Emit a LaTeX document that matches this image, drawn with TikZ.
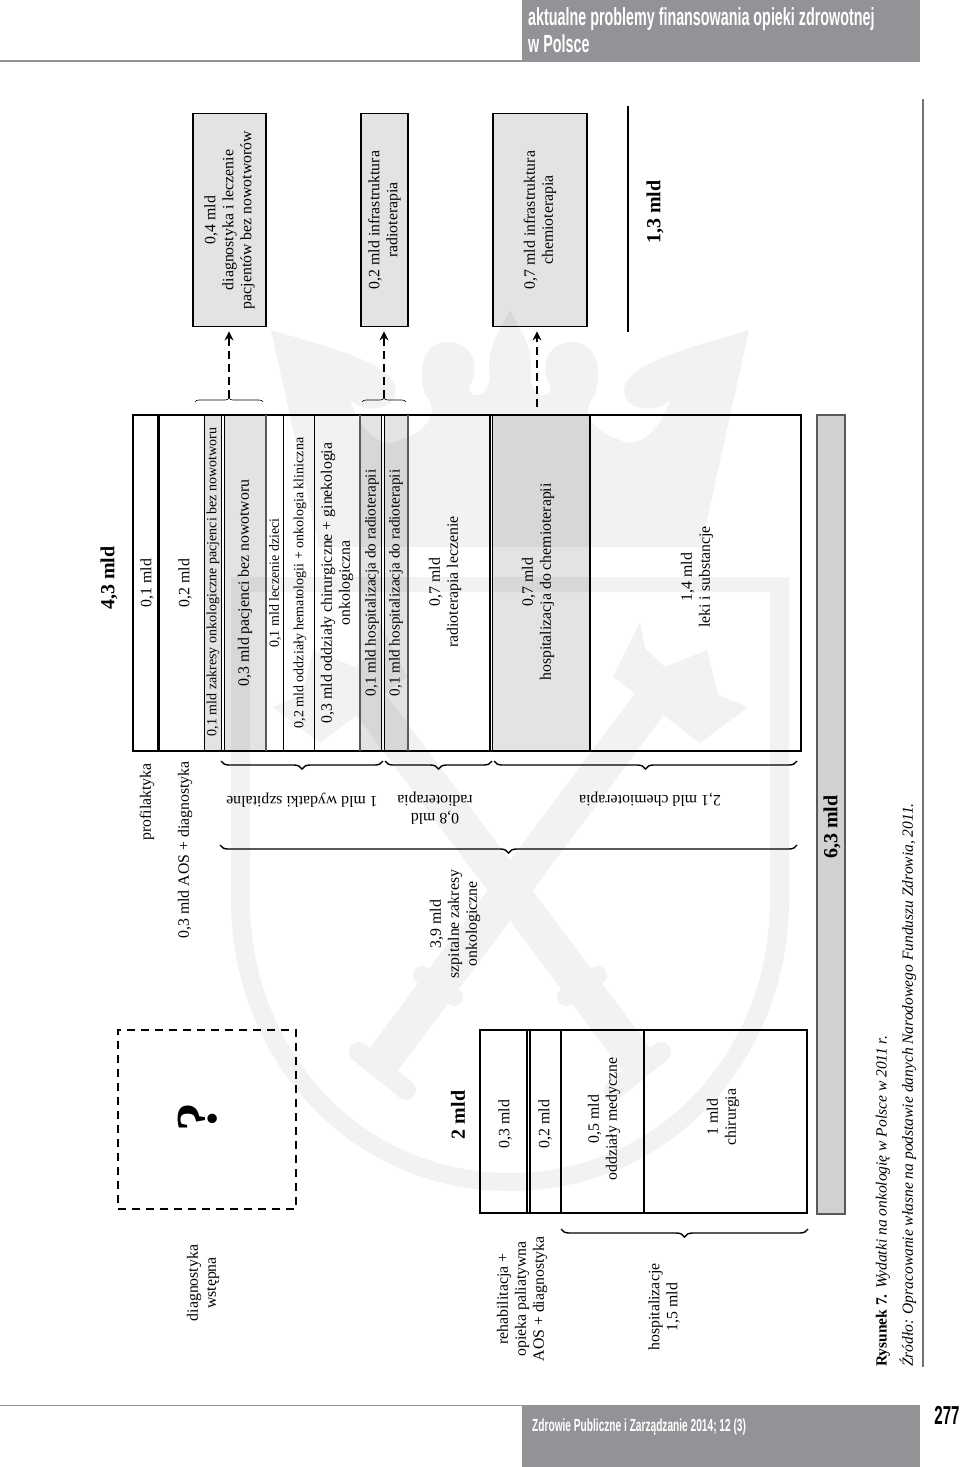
\documentclass[tikz,border=0pt]{standalone}
\usepackage{fontspec}
\setmainfont{Liberation Serif}
\newfontfamily\headfont[FakeStretch=0.58]{Liberation Sans Bold}
\usetikzlibrary{decorations.pathreplacing,arrows.meta}
\definecolor{wmark}{gray}{0.95}
\definecolor{headgray}{RGB}{146,147,150}
\definecolor{celledge}{gray}{0.35}
\tikzset{
  lab/.style={font=\fontsize{15.8}{18}\selectfont, align=center, inner sep=0pt},
  labhosp/.style={font=\fontsize{15.2}{18}\selectfont, align=center, inner sep=0pt},
  labsmall/.style={font=\fontsize{14}{17}\selectfont, align=center, inner sep=0pt},
  sumlab/.style={font=\fontsize{20}{22}\selectfont\bfseries, inner sep=0pt},
  cellgray/.style={fill=black, fill opacity=0.11},
  infobox/.style={draw, line width=1.8pt, fill=black, fill opacity=0.11, draw opacity=1, text opacity=1, minimum width=213pt, align=center, inner sep=0pt, rotate=90, font=\fontsize{15.8}{18}\selectfont},
  dasharrow/.style={line width=1.8pt, dash pattern=on 8pt off 5pt, -{Stealth[length=9pt,width=9pt]}, shorten >=4pt},
  bigbrace/.style={decorate, decoration={brace, mirror, amplitude=8pt}, line width=1.4pt},
  smallbrace/.style={decorate, decoration={brace, amplitude=4pt}, line width=0.6pt},
}
\begin{document}
\begin{tikzpicture}[x=1pt, y=-1pt]
\useasboundingbox (0,0) rectangle (960,1467);

% watermark behind everything
\fill[wmark, even odd rule] (231,577) -- (789,577) -- (789,900) .. controls (789,1060) and (670,1191) .. (510,1191) .. controls (350,1191) and (231,1060) .. (231,900) -- cycle
  (250,592) -- (770,592) -- (770,900) .. controls (770,1050) and (660,1173) .. (510,1173) .. controls (360,1173) and (250,1050) .. (250,900) -- cycle;
\foreach \s in {1,-1} {
  \begin{scope}[shift={(510,0)}, xscale=\s]
    % half of the crown
    \fill[wmark] (0,547) -- (-191,547) -- (-239,330) .. controls (-190,345) and (-125,360) .. (-115,385)
      .. controls (-108,410) and (-145,415) .. (-160,400) .. controls (-150,430) and (-130,450) .. (-110,440)
      .. controls (-80,430) and (-70,410) .. (-85,395) .. controls (-95,360) and (-80,342) .. (-63,342)
      .. controls (-35,342) and (-30,370) .. (-40,385) .. controls (-45,400) and (-20,400) .. (-20,375)
      .. controls (-25,350) and (-10,330) .. (0,310) -- cycle;
    % staff with its head
    \draw[wmark, line width=36pt] (138,1075) -- (-150,690);
    \draw[wmark, line width=20pt, line cap=round] (-151,1052) -- (-104,1090);
    \draw[wmark, line width=18pt, line cap=round] (-88,975) -- (-56,997);
    \fill[wmark] (-130,622) -- (-135,648) -- (-155,667) -- (-197,650) -- (-208,695) -- (-238,707) -- (-190,743) -- (-103,677) -- cycle;
  \end{scope}
}

% page furniture
\fill[headgray] (522,0) rectangle (920,62);
\fill[headgray] (522,1405) rectangle (920,1467);
\draw[headgray, line width=1.5pt] (0,61) -- (522,61);
\draw[headgray, line width=1.5pt] (0,1405.5) -- (522,1405.5);
\draw[black!55, line width=1.5pt] (923,99) -- (923,1367);
\node[anchor=west, inner sep=0pt, white, font=\headfont\fontsize{24.7}{27}\selectfont, align=left] (headtitle) at (528,30.5) {aktualne problemy finansowania opieki zdrowotnej\\w Polsce};
\node[anchor=west, inner sep=0pt, white, font=\headfont\fontsize{17.5}{20}\selectfont] (foottitle) at (532,1427) {Zdrowie Publiczne i Zarządzanie 2014; 12 (3)};
\node[inner sep=0pt, font=\headfont\fontsize{26}{28}\selectfont] (pagenum) at (947,1415) {277};

% main table, gray cells first
\fill[cellgray] (204,415) rectangle (222,751);
\fill[cellgray] (224,415) rectangle (266,751);
\fill[cellgray] (360,415) rectangle (382,751);
\fill[cellgray] (384,415) rectangle (408,751);
\fill[cellgray] (492,415) rectangle (590,751);
\draw[line width=1.8pt] (133,415) rectangle (801,751);
\draw[line width=2.2pt] (158.5,415) -- (158.5,751);
\draw[line width=0.9pt] (204,415) -- (204,751);
\draw[line width=1.5pt] (221.5,415) -- (221.5,751);
\draw[line width=1.5pt] (224.5,415) -- (224.5,751);
\draw[celledge, line width=1.2pt] (266,415) -- (266,751);
\draw[line width=0.9pt] (283,415) -- (283,751);
\draw[line width=0.9pt] (314,415) -- (314,751);
\draw[celledge, line width=1.2pt] (360,415) -- (360,751);
\draw[line width=1.5pt] (381.5,415) -- (381.5,751);
\draw[line width=1.5pt] (384.5,415) -- (384.5,751);
\draw[celledge, line width=1.2pt] (408,415) -- (408,751);
\draw[line width=1.5pt] (490,415) -- (490,751);
\draw[line width=1.5pt] (492.5,415) -- (492.5,751);
\draw[line width=1.5pt] (590,415) -- (590,751);

\node[lab, rotate=90] (profval) at (147,583) {0,1 mld};
\node[lab, rotate=90] (diagval) at (185,583) {0,2 mld};
\node[labsmall, rotate=90] (zakresy) at (213,582) {0,1 mld zakresy onkologiczne pacjenci bez nowotworu};
\node[lab, rotate=90] (pacjenci) at (245,583) {0,3 mld pacjenci bez nowotworu};
\node[labsmall, rotate=90] (dzieci) at (275,583) {0,1 mld leczenie dzieci};
\node[labsmall, rotate=90] (hemato) at (300,583) {0,2 mld oddziały hematologii + onkologia kliniczna};
\node[lab, rotate=90] (chirurg) at (337,583) {0,3 mld oddziały chirurgiczne + ginekologia\\onkologiczna};
\node[labhosp, rotate=90] (hospa) at (372,583) {0,1 mld hospitalizacja do radioterapii};
\node[labhosp, rotate=90] (hospb) at (396,583) {0,1 mld hospitalizacja do radioterapii};
\node[lab, rotate=90] (radio) at (445,582) {0,7 mld\\radioterapia leczenie};
\node[lab, rotate=90] (chemo) at (538,582) {0,7 mld\\hospitalizacja do chemioterapii};
\node[lab, rotate=90] (leki) at (697,577) {1,4 mld\\leki i substancje};

% left table
\draw[line width=1.8pt] (480,1030) rectangle (807,1213);
\draw[line width=1.5pt] (527,1030) -- (527,1213);
\draw[line width=1.5pt] (530,1030) -- (530,1213);
\draw[line width=2.5pt] (561,1030) -- (561,1213);
\draw[line width=1.5pt] (644,1030) -- (644,1213);
\node[lab, rotate=90] (rehabval) at (505,1124) {0,3 mld};
\node[lab, rotate=90] (aosval) at (545,1124) {0,2 mld};
\node[lab, rotate=90] (medval) at (604,1119) {0,5 mld\\oddziały medyczne};
\node[lab, rotate=90] (chirval) at (723,1117) {1 mld\\chirurgia};

% total bar
\draw[celledge, line width=1.5pt, fill=black!18] (817,415) rectangle (845,1214);
\node[sumlab, rotate=90] (totalall) at (832,827) {6,3 mld};
\node[sumlab, rotate=90] (totaltop) at (109,578) {4,3 mld};
\node[sumlab, rotate=90] (totalinfra) at (655,212) {1,3 mld};
\node[sumlab, rotate=90] (totalleft) at (458,1115) {2 mld};
\coordinate (infratop) at (628,106);
\coordinate (infrabot) at (628,332);
\draw[line width=1.3pt] (infratop) -- (infrabot);

% boxes at the top
\node[infobox, minimum height=73pt] (infodiag) at (229.5,220) {0,4 mld\\diagnostyka i leczenie\\pacjentów bez nowotworów};
\node[infobox, minimum height=47pt] (inforadio) at (384.5,220) {0,2 mld infrastruktura\\radioterapia};
\node[infobox, minimum height=94pt] (infochemo) at (540,220) {0,7 mld infrastruktura\\chemioterapia};

% braces and dashed arrows
\coordinate (diagl) at (195,402);
\coordinate (diagr) at (263,402);
\coordinate (radiol) at (362,402);
\coordinate (radior) at (406,402);
\coordinate (diagtip) at (229,398);
\coordinate (radiotip) at (384,398);
\coordinate (chemotip) at (537,407);
\draw[smallbrace] (diagl) -- (diagr);
\draw[smallbrace] (radiol) -- (radior);
\draw[dasharrow] (diagtip) -- (diagtip |- infodiag.west);
\draw[dasharrow] (radiotip) -- (radiotip |- inforadio.west);
\draw[dasharrow] (chemotip) -- (chemotip |- infochemo.west);

\coordinate (brla) at (221,761);
\coordinate (brra) at (383,761);
\coordinate (brlb) at (385,761);
\coordinate (brrb) at (492,761);
\coordinate (brlc) at (494,761);
\coordinate (brrc) at (797,761);
\coordinate (brld) at (220,845);
\coordinate (brrd) at (797,845);
\coordinate (brle) at (561,1229);
\coordinate (brre) at (808,1229);
\draw[bigbrace] (brla) -- (brra);
\draw[bigbrace] (brlb) -- (brrb);
\draw[bigbrace] (brlc) -- (brrc);
\draw[bigbrace] (brld) -- (brrd);
\draw[bigbrace] (brle) -- (brre);

% labels under the table
\node[lab, rotate=90] (proflab) at (147,802) {profilaktyka};
\node[lab, rotate=90] (aoslab) at (185,850) {0,3 mld AOS + diagnostyka};
\node[lab, rotate=180] (szplab) at (302,800) {1 mld wydatki szpitalne};
\node[lab, rotate=180] (radiolab) at (435,808) {0,8 mld\\radioterapia};
\node[lab, rotate=180] (chemolab) at (650,799) {2,1 mld chemioterapia};
\node[lab, rotate=90] (onkolab) at (455,924) {3,9 mld\\szpitalne zakresy\\onkologiczne};
\node[lab, rotate=90] (wstepna) at (203,1283) {diagnostyka\\wstępna};
\node[lab, rotate=90] (rehablab) at (522,1299) {rehabilitacja +\\opieka paliatywna\\AOS + diagnostyka};
\node[lab, rotate=90] (hosplab) at (664,1307) {hospitalizacje\\1,5 mld};

% dashed box with the question mark
\node[draw, line width=1.8pt, dash pattern=on 8pt off 6pt, minimum width=178pt, minimum height=179pt, inner sep=0pt] (qbox) at (207,1119.5) {};
\node[inner sep=0pt, rotate=90, font=\fontsize{58}{60}\selectfont\bfseries] (qmark) at (198,1117) {?};

% caption
\node[anchor=west, inner sep=0pt, rotate=90, font=\fontsize{15.5}{17}\selectfont] (figcap) at (883,1367) {\textbf{Rysunek 7.} \textit{Wydatki na onkologię w Polsce w 2011 r.}};
\node[anchor=west, inner sep=0pt, rotate=90, font=\fontsize{15.5}{17}\selectfont\itshape] (figsrc) at (908,1367) {Źródło: Opracowanie własne na podstawie danych Narodowego Funduszu Zdrowia, 2011.};
\end{tikzpicture}
\end{document}
